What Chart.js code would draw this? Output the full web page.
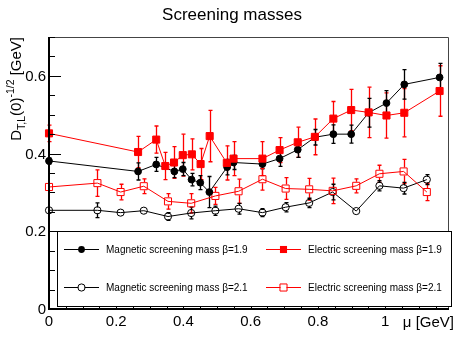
<!DOCTYPE html>
<html>
<head>
<meta charset="utf-8">
<script src="https://cdn.jsdelivr.net/npm/chart.js@4/dist/chart.umd.min.js"></script>
<style>
  body { margin: 0; background: #fff; }
  canvas { display: block; }
</style>
</head>
<body>
<canvas id="chart" width="455" height="341"></canvas>
<script>
// mu values [GeV]
const muMag19 = [0, 0.265, 0.319, 0.373, 0.398, 0.424, 0.450, 0.477, 0.530, 0.549, 0.635, 0.686, 0.740, 0.791, 0.846, 0.899, 0.951, 1.004, 1.057, 1.162];
const mag19 = [0.381, 0.354, 0.372, 0.354, 0.360, 0.333, 0.325, 0.301, 0.365, 0.377, 0.373, 0.387, 0.410, 0.442, 0.450, 0.450, 0.505, 0.530, 0.578, 0.596];
const mag19Err = [0.008, 0.022, 0.018, 0.016, 0.017, 0.016, 0.018, 0.040, 0.020, 0.018, 0.012, 0.020, 0.020, 0.020, 0.024, 0.023, 0.037, 0.032, 0.038, 0.036];

const muElec19 = [0, 0.265, 0.319, 0.346, 0.372, 0.398, 0.425, 0.451, 0.478, 0.529, 0.549, 0.635, 0.686, 0.740, 0.791, 0.846, 0.899, 0.951, 1.004, 1.057, 1.162];
const elec19 = [0.452, 0.404, 0.436, 0.368, 0.377, 0.396, 0.398, 0.373, 0.445, 0.376, 0.387, 0.387, 0.409, 0.429, 0.443, 0.490, 0.512, 0.506, 0.498, 0.505, 0.561];
const elec19Err = [0.021, 0.040, 0.035, 0.035, 0.041, 0.054, 0.040, 0.040, 0.066, 0.044, 0.044, 0.044, 0.032, 0.039, 0.046, 0.044, 0.053, 0.065, 0.058, 0.062, 0.065];

const mu21 = [0, 0.144, 0.213, 0.282, 0.354, 0.423, 0.495, 0.564, 0.635, 0.704, 0.774, 0.844, 0.914, 0.983, 1.055, 1.124];
const mag21 = [0.254, 0.254, 0.248, 0.253, 0.238, 0.247, 0.253, 0.258, 0.248, 0.262, 0.273, 0.301, 0.252, 0.317, 0.311, 0.333];
const mag21Err = [0.005, 0.019, 0.008, 0.008, 0.010, 0.015, 0.012, 0.014, 0.010, 0.012, 0.012, 0.020, 0.005, 0.013, 0.015, 0.013];
const elec21 = [0.314, 0.324, 0.301, 0.316, 0.277, 0.272, 0.291, 0.303, 0.334, 0.310, 0.308, 0.304, 0.317, 0.348, 0.354, 0.301];
const elec21Err = [0.008, 0.034, 0.020, 0.019, 0.020, 0.025, 0.022, 0.031, 0.028, 0.028, 0.028, 0.033, 0.018, 0.022, 0.031, 0.022];

const xTicks = [0, 0.2, 0.4, 0.6, 0.8, 1];
const xTickLabels = ["0", "0.2", "0.4", "0.6", "0.8", "1"];
const yTicks = [0, 0.2, 0.4, 0.6];
const yTickLabels = ["0", "0.2", "0.4", "0.6"];

const FONT = "'Liberation Sans', Arial, Helvetica, sans-serif";
const RED = "#ff0000";

const toPoints = (xs, ys) => xs.map((x, i) => ({ x: x, y: ys[i] }));

const series = [
  { label: "Electric screening mass \u03b2=1.9", mu: muElec19, val: elec19, err: elec19Err,
    color: RED, style: "rect", radius: 5, open: false },
  { label: "Magnetic screening mass \u03b2=1.9", mu: muMag19, val: mag19, err: mag19Err,
    color: "#000", style: "circle", radius: 3.4, open: false },
  { label: "Electric screening mass \u03b2=2.1", mu: mu21, val: elec21, err: elec21Err,
    color: RED, style: "rect", radius: 5, open: true },
  { label: "Magnetic screening mass \u03b2=2.1", mu: mu21, val: mag21, err: mag21Err,
    color: "#000", style: "circle", radius: 3.6, open: true },
];

function drawMarker(ctx, s, x, y) {
  ctx.save();
  ctx.lineWidth = 1;
  ctx.strokeStyle = s.color;
  ctx.fillStyle = s.color;
  ctx.beginPath();
  if (s.style === "circle") {
    ctx.arc(x, y, s.radius, 0, Math.PI * 2);
  } else {
    const h = s.radius * Math.SQRT1_2;
    ctx.rect(x - h, y - h, 2 * h, 2 * h);
  }
  if (s.open) ctx.stroke(); else ctx.fill();
  ctx.restore();
}

const rootPlugin = {
  id: "rootStyle",
  beforeDraw(chart) {
    const ctx = chart.ctx;
    ctx.save();
    ctx.fillStyle = "#fff";
    ctx.fillRect(0, 0, chart.width, chart.height);
    ctx.restore();
  },
  beforeDatasetsDraw(chart) {
    const ctx = chart.ctx;
    const xs = chart.scales.x, ys = chart.scales.y;
    ctx.save();
    series.forEach((s) => {
      ctx.strokeStyle = s.color;
      ctx.lineWidth = 1.3;
      s.mu.forEach((m, i) => {
        const px = Math.round(xs.getPixelForValue(m)) + 0.5;
        const py = ys.getPixelForValue(s.val[i]);
        const top = ys.getPixelForValue(s.val[i] + s.err[i]);
        const bot = ys.getPixelForValue(s.val[i] - s.err[i]);
        const gap = s.open ? s.radius * 0.8 : 0;
        ctx.beginPath();
        if (top < py - gap) { ctx.moveTo(px, top); ctx.lineTo(px, py - gap); }
        if (bot > py + gap) { ctx.moveTo(px, py + gap); ctx.lineTo(px, bot); }
        ctx.stroke();
        if (top < py - gap - 1) {
          ctx.beginPath();
          ctx.moveTo(px - 2, top); ctx.lineTo(px + 2, top);
          ctx.moveTo(px - 2, bot); ctx.lineTo(px + 2, bot);
          ctx.stroke();
        }
      });
    });
    ctx.restore();
  },
  afterDraw(chart) {
    const ctx = chart.ctx;
    const a = chart.chartArea;
    const xs = chart.scales.x, ys = chart.scales.y;
    ctx.save();

    // frame
    ctx.strokeStyle = "#444";
    ctx.lineWidth = 1;
    ctx.beginPath();
    ctx.moveTo(a.left, a.top + 0.5);
    ctx.lineTo(a.right - 0.5, a.top + 0.5);
    ctx.lineTo(a.right - 0.5, a.bottom);
    ctx.stroke();

    // ticks (inside)
    ctx.strokeStyle = "#000";
    ctx.lineWidth = 1;
    ctx.beginPath();
    for (let k = 0; k <= 14; k++) {
      const v = k * 0.05;
      const py = Math.round(ys.getPixelForValue(v)) + 0.5;
      const len = (k % 4 === 0) ? 12 : 6;
      ctx.moveTo(a.left, py); ctx.lineTo(a.left + len, py);
    }
    for (let k = 0; k <= 23; k++) {
      const v = k * 0.05;
      const px = Math.round(xs.getPixelForValue(v)) + 0.5;
      const len = (k % 4 === 0) ? 12 : 6;
      ctx.moveTo(px, a.bottom); ctx.lineTo(px, a.bottom - len);
    }
    ctx.stroke();

    // legend box
    const lx = 57, ly = 231, lw = 394, lh = 75;
    ctx.fillStyle = "#fff";
    ctx.fillRect(lx, ly, lw, lh);
    ctx.strokeStyle = "#000";
    ctx.lineWidth = 1;
    ctx.strokeRect(lx + 0.5, ly + 0.5, lw, lh);

    const entries = [
      { s: series[1], x: 64, y: 249 },
      { s: series[0], x: 266, y: 249 },
      { s: series[3], x: 64, y: 287 },
      { s: series[2], x: 266, y: 287 },
    ];
    ctx.font = "10px " + FONT;
    ctx.textBaseline = "middle";
    ctx.textAlign = "left";
    entries.forEach((e) => {
      ctx.strokeStyle = e.s.color;
      ctx.lineWidth = 1;
      ctx.beginPath();
      ctx.moveTo(e.x, e.y + 0.5); ctx.lineTo(e.x + 35, e.y + 0.5);
      ctx.stroke();
      if (e.s.open) {
        ctx.fillStyle = "#fff";
        ctx.fillRect(e.x + 17.5 - 3, e.y - 3, 6, 6);
      }
      drawMarker(ctx, e.s, e.x + 17.5, e.y + 0.5);
      ctx.fillStyle = "#000";
      ctx.fillText(e.s.label, e.x + 42, e.y + 1);
    });

    // axes lines
    ctx.strokeStyle = "#000";
    ctx.lineWidth = 2;
    ctx.beginPath();
    ctx.moveTo(a.left, a.top);
    ctx.lineTo(a.left, a.bottom);
    ctx.lineTo(a.right, a.bottom);
    ctx.stroke();

    // tick labels
    ctx.fillStyle = "#000";
    ctx.font = "15px " + FONT;
    ctx.textAlign = "center";
    ctx.textBaseline = "alphabetic";
    xTicks.forEach((v, i) => {
      ctx.fillText(xTickLabels[i], xs.getPixelForValue(v), 326);
    });
    ctx.textAlign = "right";
    ctx.textBaseline = "middle";
    yTicks.forEach((v, i) => {
      ctx.fillText(yTickLabels[i], a.left - 3, ys.getPixelForValue(v) + 1);
    });

    // x title
    ctx.textAlign = "right";
    ctx.textBaseline = "alphabetic";
    ctx.fillText("\u03bc [GeV]", 454, 327);

    // main title
    ctx.font = "17px " + FONT;
    ctx.textAlign = "center";
    ctx.fillText("Screening masses", 232, 20);

    // y title, rotated, right-aligned to top of axis
    ctx.translate(21, 37);
    ctx.rotate(-Math.PI / 2);
    const parts = [
      { t: "D", f: 15, dy: 0 },
      { t: "T,L", f: 10.5, dy: 4 },
      { t: "(0)", f: 15, dy: 0 },
      { t: "-1/2", f: 10.5, dy: -7 },
      { t: " [GeV]", f: 15, dy: 0 },
    ];
    let total = 0;
    parts.forEach((p) => { ctx.font = p.f + "px " + FONT; p.w = ctx.measureText(p.t).width; total += p.w; });
    let cx = -total;
    ctx.textAlign = "left";
    parts.forEach((p) => {
      ctx.font = p.f + "px " + FONT;
      ctx.fillText(p.t, cx, p.dy);
      cx += p.w;
    });
    ctx.restore();
  },
};

new Chart(document.getElementById("chart"), {
  type: "scatter",
  data: {
    datasets: series.map((s) => ({
      label: s.label,
      data: toPoints(s.mu, s.val),
      showLine: true,
      clip: false,
      borderColor: s.color,
      borderWidth: 1,
      backgroundColor: s.open ? "rgba(0,0,0,0)" : s.color,
      pointStyle: s.style,
      pointRadius: s.radius,
      pointBorderWidth: 1,
      pointBorderColor: s.color,
      pointBackgroundColor: s.open ? "rgba(0,0,0,0)" : s.color,
      tension: 0,
    })),
  },
  options: {
    responsive: false,
    animation: false,
    layout: { padding: { left: 49, top: 37, right: 2, bottom: 32 } },
    plugins: {
      legend: { display: false },
      tooltip: { enabled: false },
      title: { display: false },
    },
    scales: {
      x: { type: "linear", min: 0, max: 1.19, display: false },
      y: { type: "linear", min: 0, max: 0.7, display: false },
    },
  },
  plugins: [rootPlugin],
});
</script>
</body>
</html>
